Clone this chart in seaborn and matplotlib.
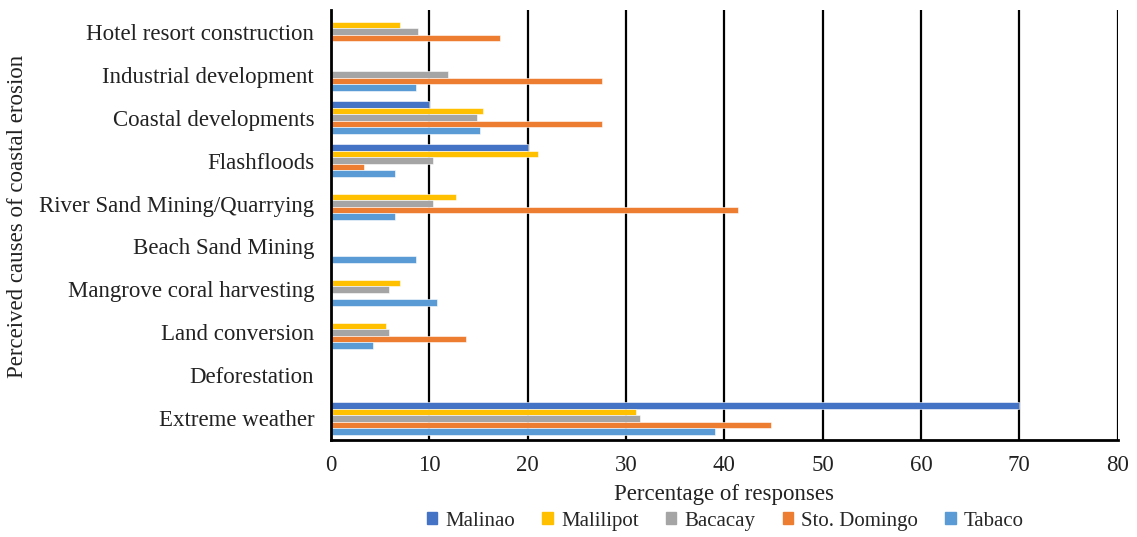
import matplotlib
matplotlib.use("Agg")
import matplotlib.pyplot as plt
import pandas as pd
import seaborn as sns

sns.set_theme(style="white")
plt.rcParams['font.family'] = ['Liberation Serif', 'DejaVu Serif']

causes = ["Hotel resort construction", "Industrial development", "Coastal developments",
          "Flashfloods", "River Sand Mining/Quarrying", "Beach Sand Mining",
          "Mangrove coral harvesting", "Land conversion", "Deforestation", "Extreme weather"]
sites = ["Malinao", "Malilipot", "Bacacay", "Sto. Domingo", "Tabaco"]

malinao = [0, 0, 10.0, 20.0, 0, 0, 0, 0, 0, 70.0]
malilipot = [7.0, 0, 15.5, 21.1, 12.7, 0, 7.0, 5.6, 0, 31.0]
bacacay = [8.9, 11.9, 14.9, 10.4, 10.4, 0, 5.9, 5.9, 0, 31.4]
sto_domingo = [17.2, 27.6, 27.6, 3.4, 41.4, 0, 0, 13.7, 0, 44.8]
tabaco = [0, 8.7, 15.2, 6.5, 6.5, 8.7, 10.8, 4.3, 0, 39.1]

colors = ["#4472C4", "#FFC000", "#A5A5A5", "#ED7D31", "#5B9BD5"]

rows = []
for site, vals in zip(sites, [malinao, malilipot, bacacay, sto_domingo, tabaco]):
    for c, v in zip(causes, vals):
        rows.append((c, site, v))
df = pd.DataFrame(rows, columns=["Cause", "Site", "Percent"])

fig = plt.figure(figsize=(11.37, 5.37), dpi=100)
ax = fig.add_axes([0.291, 0.181, 0.692, 0.80])

sns.barplot(data=df, y="Cause", x="Percent", hue="Site", order=causes, hue_order=sites,
            palette=colors, saturation=1, orient="h", width=0.76, ax=ax, legend=False,
            edgecolor="white", linewidth=0.4)

ax.set_xlim(0, 80)
ax.set_xticks(range(0, 81, 10))
ax.xaxis.grid(True, color="black", linewidth=1.6)
ax.yaxis.grid(False)
ax.set_axisbelow(True)

for s in ["top", "right"]:
    ax.spines[s].set_visible(False)
ax.spines["left"].set_color("black")
ax.spines["left"].set_linewidth(2)
ax.spines["bottom"].set_color("black")
ax.spines["bottom"].set_linewidth(2)
ax.tick_params(axis="both", length=0, labelsize=16.5, colors="#222222")
ax.tick_params(axis="x", pad=11)
ax.tick_params(axis="y", pad=12)

ax.set_xlabel("Percentage of responses", fontsize=16.5, color="#222222", labelpad=6)
ax.set_ylabel("Perceived causes of coastal erosion", fontsize=16.5, color="#222222")
ax.yaxis.set_label_coords(-0.385, 0.52)

handles = [plt.Rectangle((0, 0), 1, 1, color=c) for c in colors]
fig.legend(handles, sites, loc="lower center", bbox_to_anchor=(0.638, 0.0), ncol=5,
           frameon=False, fontsize=15, handlelength=0.5, handleheight=0.5,
           handletextpad=0.4, columnspacing=1.3, borderaxespad=0.1, borderpad=0.2)

fig.savefig("out.png", dpi=100)
